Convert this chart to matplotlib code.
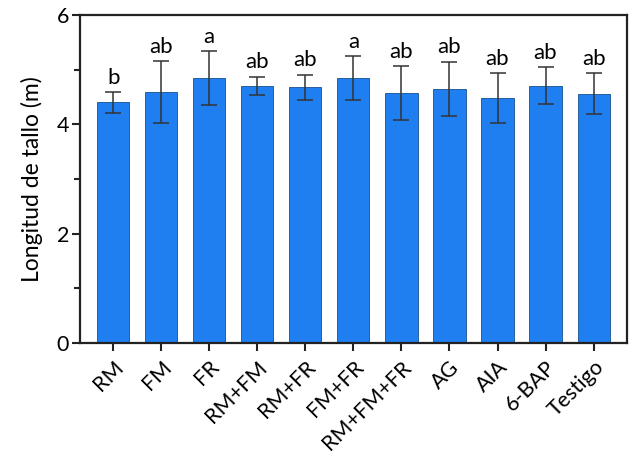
import matplotlib
matplotlib.use("Agg")
import matplotlib.pyplot as plt
from matplotlib.ticker import MultipleLocator

categories = ["RM", "FM", "FR", "RM+FM", "RM+FR", "FM+FR", "RM+FM+FR", "AG", "AIA", "6-BAP", "Testigo"]
means = [4.40, 4.59, 4.85, 4.70, 4.68, 4.85, 4.57, 4.645, 4.48, 4.71, 4.56]
errors = [0.19, 0.56, 0.49, 0.17, 0.23, 0.40, 0.49, 0.50, 0.45, 0.33, 0.37]
letters = ["b", "ab", "a", "ab", "ab", "a", "ab", "ab", "ab", "ab", "ab"]

plt.rcParams['font.family'] = ['Lato', 'DejaVu Sans']

fig = plt.figure(figsize=(6.35, 4.54), dpi=100)
ax = fig.add_axes([0.126, 0.2445, 0.861, 0.7225])

x = list(range(len(categories)))
ax.bar(x, means, width=0.67, color="#1F7FF0", edgecolor="#1a4f8f", linewidth=0.6, zorder=2)
ax.errorbar(x, means, yerr=errors, fmt="none", ecolor="#333333", elinewidth=1.1,
            capsize=5.5, capthick=1.1, zorder=3)

for xi, m, e, l in zip(x, means, errors, letters):
    ax.text(xi, m + e + 0.08, l, ha="center", va="bottom", fontsize=16)

ax.set_xlim(-0.69, 10.69)
ax.set_ylim(0, 6)
ax.yaxis.set_major_locator(MultipleLocator(2))
ax.yaxis.set_minor_locator(MultipleLocator(1))
ax.set_xticks(x)
ax.set_xticklabels(categories, rotation=45, ha="right", rotation_mode="anchor", fontsize=15.5)
ax.tick_params(axis="x", pad=4)
ax.tick_params(axis="y", labelsize=15.5, pad=2)
ax.tick_params(which="both", direction="out", width=1.5, color="#222222")
ax.tick_params(which="major", length=6)
ax.tick_params(which="minor", length=4)
ax.set_ylabel("Longitud de tallo (m)", fontsize=16.5, labelpad=10)
for s in ax.spines.values():
    s.set_linewidth(1.6)
    s.set_color("#222222")

fig.savefig("out.png", dpi=100)
